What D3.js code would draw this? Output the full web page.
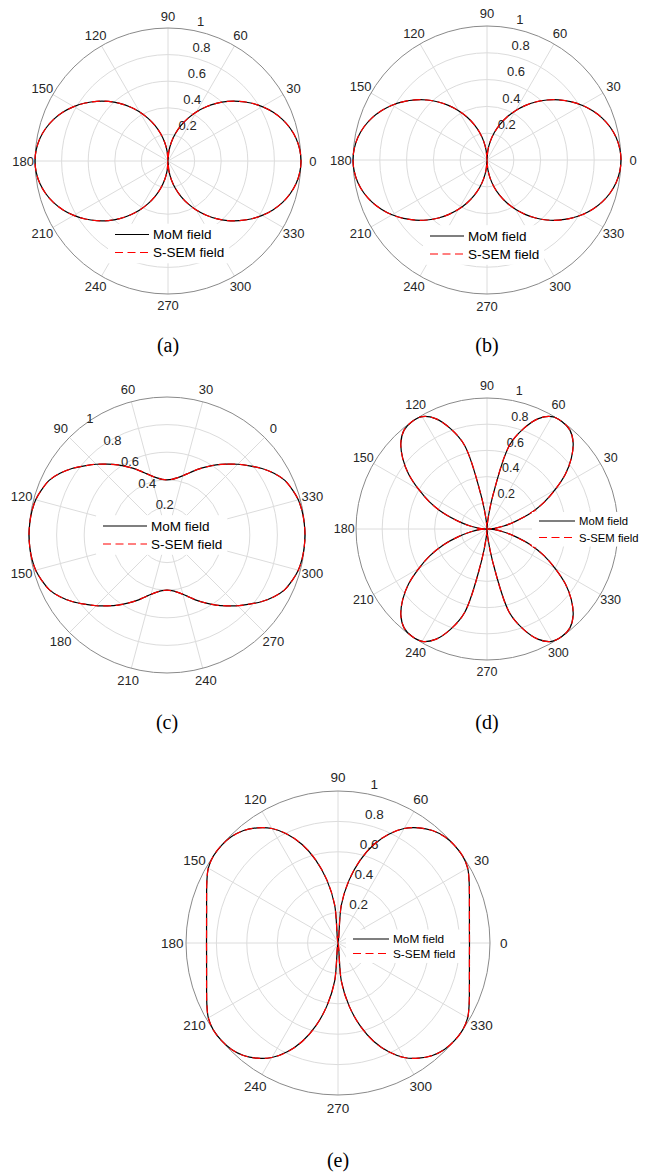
<!DOCTYPE html>
<html>
<head>
<meta charset="utf-8">
<script src="https://cdn.jsdelivr.net/npm/d3@7"></script>
<style>
  body { margin: 0; background: #fff; }
  svg { display: block; }
</style>
</head>
<body>
<svg id="fig" width="649" height="1172"></svg>
<script>
// Sample angles (degrees) shared by every pattern
const angles = [0,5,10,15,20,25,30,35,40,45,50,55,60,65,70,75,80,85,90,95,100,105,110,115,120,125,130,135,140,145,150,155,160,165,170,175,
                180,185,190,195,200,205,210,215,220,225,230,235,240,245,250,255,260,265,270,275,280,285,290,295,300,305,310,315,320,325,330,335,340,345,350,355];

const thetaTicks = [0,30,60,90,120,150,180,210,240,270,300,330];
const rTicks = [0.2,0.4,0.6,0.8,1];
const rTickLabels = ["0.2","0.4","0.6","0.8","1"];
const seriesNames = ["MoM field","S-SEM field"];
const captions = ["(a)","(b)","(c)","(d)","(e)"];

// Normalised far-field patterns
const momA = [1.000,0.994,0.978,0.951,0.915,0.870,0.818,0.760,0.698,0.633,0.565,0.495,0.425,0.354,0.283,0.212,0.141,0.071,0.000,0.071,0.141,0.212,0.283,0.354,0.425,0.495,0.565,0.633,0.698,0.760,0.818,0.870,0.915,0.951,0.978,0.994,
              1.000,0.994,0.978,0.951,0.915,0.870,0.818,0.760,0.698,0.633,0.565,0.495,0.425,0.354,0.283,0.212,0.141,0.071,0.000,0.071,0.141,0.212,0.283,0.354,0.425,0.495,0.565,0.633,0.698,0.760,0.818,0.870,0.915,0.951,0.978,0.994];
const semA = [1.000,0.994,0.978,0.951,0.915,0.870,0.818,0.760,0.698,0.633,0.565,0.495,0.425,0.354,0.283,0.212,0.141,0.071,0.000,0.071,0.141,0.212,0.283,0.354,0.425,0.495,0.565,0.633,0.698,0.760,0.818,0.870,0.915,0.951,0.978,0.994,
              1.000,0.994,0.978,0.951,0.915,0.870,0.818,0.760,0.698,0.633,0.565,0.495,0.425,0.354,0.283,0.212,0.141,0.071,0.000,0.071,0.141,0.212,0.283,0.354,0.425,0.495,0.565,0.633,0.698,0.760,0.818,0.870,0.915,0.951,0.978,0.994];

const momB = [1.000,0.994,0.978,0.951,0.915,0.870,0.818,0.760,0.698,0.633,0.565,0.495,0.425,0.354,0.283,0.212,0.141,0.071,0.000,0.071,0.141,0.212,0.283,0.354,0.425,0.495,0.565,0.633,0.698,0.760,0.818,0.870,0.915,0.951,0.978,0.994,
              1.000,0.994,0.978,0.951,0.915,0.870,0.818,0.760,0.698,0.633,0.565,0.495,0.425,0.354,0.283,0.212,0.141,0.071,0.000,0.071,0.141,0.212,0.283,0.354,0.425,0.495,0.565,0.633,0.698,0.760,0.818,0.870,0.915,0.951,0.978,0.994];
const semB = [1.000,0.994,0.978,0.951,0.915,0.870,0.818,0.760,0.698,0.633,0.565,0.495,0.425,0.354,0.283,0.212,0.141,0.071,0.000,0.071,0.141,0.212,0.283,0.354,0.425,0.495,0.565,0.633,0.698,0.760,0.818,0.870,0.915,0.951,0.978,0.994,
              1.000,0.994,0.978,0.951,0.915,0.870,0.818,0.760,0.698,0.633,0.565,0.495,0.425,0.354,0.283,0.212,0.141,0.071,0.000,0.071,0.141,0.212,0.283,0.354,0.425,0.495,0.565,0.633,0.698,0.760,0.818,0.870,0.915,0.951,0.978,0.994];

const momC = [0.725,0.670,0.620,0.570,0.525,0.480,0.445,0.420,0.405,0.400,0.405,0.420,0.445,0.480,0.525,0.570,0.620,0.670,0.725,0.780,0.840,0.895,0.940,0.965,0.985,0.994,0.998,1.000,0.998,0.994,0.985,0.965,0.940,0.895,0.840,0.780,
              0.725,0.670,0.620,0.570,0.525,0.480,0.445,0.420,0.405,0.400,0.405,0.420,0.445,0.480,0.525,0.570,0.620,0.670,0.725,0.780,0.840,0.895,0.940,0.965,0.985,0.994,0.998,1.000,0.998,0.994,0.985,0.965,0.940,0.895,0.840,0.780];
const semC = [0.725,0.670,0.620,0.570,0.525,0.480,0.445,0.420,0.405,0.400,0.405,0.420,0.445,0.480,0.525,0.570,0.620,0.670,0.725,0.780,0.840,0.895,0.940,0.965,0.985,0.994,0.998,1.000,0.998,0.994,0.985,0.965,0.940,0.895,0.840,0.780,
              0.725,0.670,0.620,0.570,0.525,0.480,0.445,0.420,0.405,0.400,0.405,0.420,0.445,0.480,0.525,0.570,0.620,0.670,0.725,0.780,0.840,0.895,0.940,0.965,0.985,0.994,0.998,1.000,0.998,0.994,0.985,0.965,0.940,0.895,0.840,0.780];

const momD = [0.000,0.060,0.130,0.225,0.355,0.480,0.600,0.730,0.840,0.930,0.985,1.000,0.990,0.930,0.815,0.660,0.260,0.060,0.000,0.060,0.260,0.660,0.815,0.930,0.990,1.000,0.985,0.930,0.840,0.730,0.600,0.480,0.355,0.225,0.130,0.060,
              0.000,0.060,0.130,0.225,0.355,0.480,0.600,0.730,0.840,0.930,0.985,1.000,0.990,0.930,0.815,0.660,0.260,0.060,0.000,0.060,0.260,0.660,0.815,0.930,0.990,1.000,0.985,0.930,0.840,0.730,0.600,0.480,0.355,0.225,0.130,0.060];
const semD = [0.000,0.060,0.130,0.225,0.355,0.480,0.600,0.730,0.840,0.930,0.985,1.000,0.990,0.930,0.815,0.660,0.260,0.060,0.000,0.060,0.260,0.660,0.815,0.930,0.990,1.000,0.985,0.930,0.840,0.730,0.600,0.480,0.355,0.225,0.130,0.060,
              0.000,0.060,0.130,0.225,0.355,0.480,0.600,0.730,0.840,0.930,0.985,1.000,0.990,0.930,0.815,0.660,0.260,0.060,0.000,0.060,0.260,0.660,0.815,0.930,0.990,1.000,0.985,0.930,0.840,0.730,0.600,0.480,0.355,0.225,0.130,0.060];

const momE = [0.865,0.868,0.878,0.895,0.920,0.952,0.985,1.000,1.000,0.990,0.966,0.925,0.870,0.790,0.690,0.565,0.420,0.250,0.000,0.250,0.420,0.565,0.690,0.790,0.870,0.925,0.966,0.990,1.000,1.000,0.985,0.952,0.920,0.895,0.878,0.868,
              0.865,0.868,0.878,0.895,0.920,0.952,0.985,1.000,1.000,0.990,0.966,0.925,0.870,0.790,0.690,0.565,0.420,0.250,0.000,0.250,0.420,0.565,0.690,0.790,0.870,0.925,0.966,0.990,1.000,1.000,0.985,0.952,0.920,0.895,0.878,0.868];
const semE = [0.865,0.868,0.878,0.895,0.920,0.952,0.985,1.000,1.000,0.990,0.966,0.925,0.870,0.790,0.690,0.565,0.420,0.250,0.000,0.250,0.420,0.565,0.690,0.790,0.870,0.925,0.966,0.990,1.000,1.000,0.985,0.952,0.920,0.895,0.878,0.868,
              0.865,0.868,0.878,0.895,0.920,0.952,0.985,1.000,1.000,0.990,0.966,0.925,0.870,0.790,0.690,0.565,0.420,0.250,0.000,0.250,0.420,0.565,0.690,0.790,0.870,0.925,0.966,0.990,1.000,1.000,0.985,0.952,0.920,0.895,0.878,0.868];

// Panel geometry and styling (hideTick: angular label covered by the legend)
const panels = [
  { mom: momA, sem: semA, cx: 168, cy: 161, R: 133, rot: 0,  rAxis: 80,  tickFs: 13,   legX: 115, legY: 234.5, legLen: 34, legFs: 13.5, legDy: 18,   capX: 168, capY: 345,  hideTick: null },
  { mom: momB, sem: semB, cx: 487, cy: 160, R: 134, rot: 0,  rAxis: 80,  tickFs: 13,   legX: 430, legY: 236,   legLen: 34, legFs: 13.5, legDy: 18,   capX: 487, capY: 345,  hideTick: null },
  { mom: momC, sem: semC, cx: 167, cy: 535, R: 138, rot: 45, rAxis: 129, tickFs: 13,   legX: 103, legY: 526,   legLen: 44, legFs: 13.5, legDy: 18,   capX: 167, capY: 722,  hideTick: null },
  { mom: momD, sem: semD, cx: 487, cy: 529, R: 131, rot: 0,  rAxis: 80,  tickFs: 12.5, legX: 539, legY: 521,   legLen: 36, legFs: 11.3, legDy: 16.5, capX: 487, capY: 722,  hideTick: 0 },
  { mom: momE, sem: semE, cx: 338, cy: 943, R: 152, rot: 0,  rAxis: 80,  tickFs: 13.5, legX: 353, legY: 939,   legLen: 36, legFs: 11.8, legDy: 14.5, capX: 338, capY: 1160, hideTick: null }
];

const svg = d3.select("#fig");
const toRad = deg => (90 - deg) * Math.PI / 180;   // math angle (ccw from +x) -> d3 radial angle
const sans = "'Liberation Sans', Arial, Helvetica, sans-serif";
const dash = "8,4.5";

panels.forEach((p, i) => {
  const g = svg.append("g").attr("transform", `translate(${p.cx},${p.cy})`);
  const r = d3.scaleLinear().domain([0, 1]).range([0, p.R]);
  const ang = d3.scaleLinear().domain([0, 360]).range([toRad(p.rot), toRad(p.rot + 360)]);

  // grid: rings and spokes
  const grid = g.append("g");
  grid.selectAll("circle").data(rTicks.filter(v => v < 1)).join("circle")
    .attr("r", d => r(d)).attr("fill", "none").attr("stroke", "#dcdcdc").attr("stroke-width", 1);
  grid.selectAll("line").data(thetaTicks).join("line")
    .attr("x1", 0).attr("y1", 0)
    .attr("x2", d => d3.pointRadial(ang(d), r(1))[0])
    .attr("y2", d => d3.pointRadial(ang(d), r(1))[1])
    .attr("stroke", "#dcdcdc").attr("stroke-width", 1);
  g.append("circle").attr("r", r(1)).attr("fill", "none").attr("stroke", "#8a8a8a").attr("stroke-width", 1);

  // angular tick labels
  g.append("g").selectAll("text").data(thetaTicks.filter(d => d !== p.hideTick)).join("text")
    .attr("x", d => d3.pointRadial(ang(d), p.R * 1.09)[0])
    .attr("y", d => d3.pointRadial(ang(d), p.R * 1.09)[1])
    .attr("text-anchor", "middle").attr("dominant-baseline", "central")
    .attr("font-family", sans).attr("font-size", p.tickFs).attr("fill", "#262626")
    .text(d => d);

  // radial tick labels
  g.append("g").selectAll("text").data(rTicks).join("text")
    .attr("x", d => d3.pointRadial(toRad(p.rAxis), r(d))[0] + 6)
    .attr("y", d => d3.pointRadial(toRad(p.rAxis), r(d))[1] - 9)
    .attr("text-anchor", "start").attr("dominant-baseline", "central")
    .attr("font-family", sans).attr("font-size", p.tickFs).attr("fill", "#262626")
    .text((d, k) => rTickLabels[k]);

  // legend backdrop (sized after the legend text exists)
  const legBg = svg.append("rect").attr("fill", "#fff");

  // pattern curves
  const line = d3.lineRadial()
    .angle(d => ang(d.t))
    .radius(d => r(d.v))
    .curve(d3.curveCatmullRomClosed.alpha(0.5));
  g.append("path").datum(angles.map((t, k) => ({ t, v: p.mom[k] })))
    .attr("d", line).attr("fill", "none").attr("stroke", "#000").attr("stroke-width", 1.2);
  g.append("path").datum(angles.map((t, k) => ({ t, v: p.sem[k] })))
    .attr("d", line).attr("fill", "none").attr("stroke", "#ff0000").attr("stroke-width", 1.2)
    .attr("stroke-dasharray", dash);

  // legend
  const leg = svg.append("g");
  let maxW = 0;
  seriesNames.forEach((name, k) => {
    const y = p.legY + k * p.legDy;
    leg.append("line").attr("x1", p.legX).attr("x2", p.legX + p.legLen).attr("y1", y).attr("y2", y)
      .attr("stroke", k === 0 ? "#000" : "#ff0000").attr("stroke-width", 1.2)
      .attr("stroke-dasharray", k === 0 ? null : dash);
    const t = leg.append("text").attr("x", p.legX + p.legLen + 4).attr("y", y)
      .attr("dominant-baseline", "central")
      .attr("font-family", sans).attr("font-size", p.legFs).attr("fill", "#000").text(name);
    maxW = Math.max(maxW, t.node().getComputedTextLength());
  });
  legBg.attr("x", p.legX - 7).attr("y", p.legY - p.legFs * 0.8)
    .attr("width", p.legLen + 4 + maxW + 12)
    .attr("height", p.legDy + p.legFs * 1.6);

  // caption
  svg.append("text").attr("x", p.capX).attr("y", p.capY)
    .attr("text-anchor", "middle").attr("dominant-baseline", "central")
    .attr("font-family", "'Liberation Serif', 'Times New Roman', serif").attr("font-size", 20)
    .attr("fill", "#000").text(captions[i]);
});
</script>
</body>
</html>
